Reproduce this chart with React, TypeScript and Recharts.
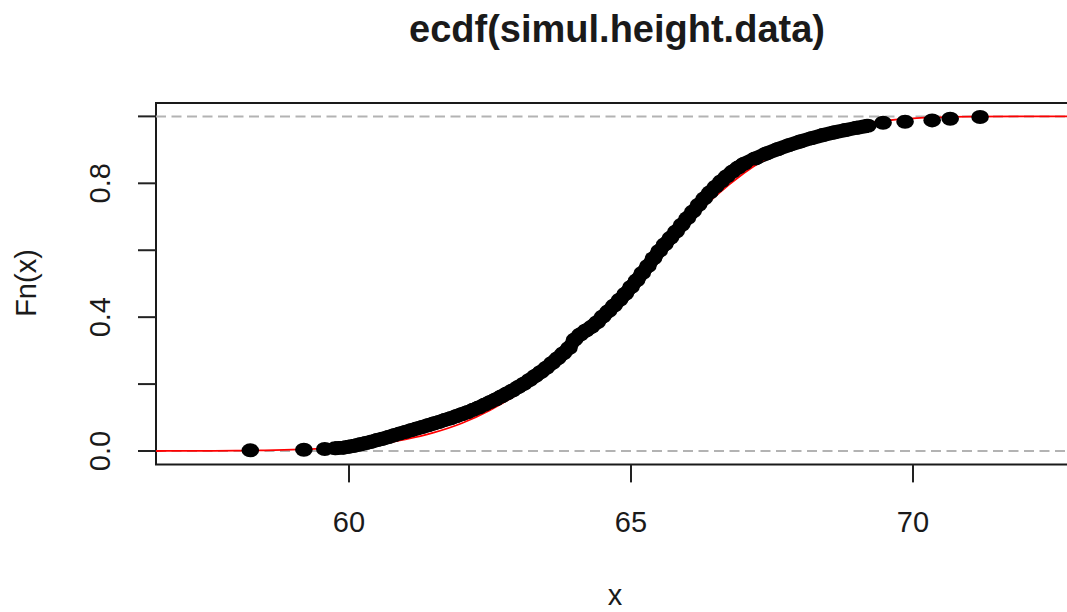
import React from 'react';
import { ComposedChart, Line, Scatter, XAxis, YAxis, ReferenceLine, ReferenceArea } from 'recharts';

// ---- data ----
const title = 'ecdf(simul.height.data)';
const xLabel = 'x';
const yLabel = 'Fn(x)';

const xTicks = [60, 65, 70];
const yTicks = [0, 0.2, 0.4, 0.6, 0.8, 1];
const yTickLabels = ['0.0', '', '0.4', '', '0.8', ''];

const xDomain = [56.578, 72.926];
const yDomain = [-0.04, 1.04];

// empirical CDF points (black)
const ecdfX = [
  58.25, 59.2, 59.57, 59.75, 59.9, 60.0, 60.1, 60.2, 60.3, 60.4, 60.5, 60.6, 60.7, 60.8, 60.9,
  61.0, 61.1, 61.2, 61.3, 61.4, 61.5, 61.6, 61.7, 61.8, 61.9, 62.0, 62.1, 62.2, 62.3, 62.4,
  62.5, 62.6, 62.7, 62.8, 62.9, 63.0, 63.1, 63.2, 63.3, 63.4, 63.5, 63.6, 63.7, 63.8, 63.9,
  64.0, 64.1, 64.2, 64.3, 64.4, 64.5, 64.6, 64.7, 64.8, 64.9, 65.0, 65.1, 65.2, 65.3, 65.4,
  65.5, 65.6, 65.7, 65.8, 65.9, 66.0, 66.1, 66.2, 66.3, 66.4, 66.5, 66.6, 66.7, 66.8, 66.9,
  67.0, 67.2, 67.4, 67.6, 67.8, 68.0, 68.2, 68.4, 68.6, 68.8, 69.0, 69.2, 69.47, 69.86, 70.34,
  70.66, 71.19,
];
const ecdfY = [
  0.002, 0.004, 0.006, 0.008, 0.010, 0.013, 0.016, 0.020, 0.024, 0.028, 0.033, 0.037, 0.042, 0.047, 0.052,
  0.057, 0.062, 0.067, 0.072, 0.077, 0.082, 0.087, 0.093, 0.098, 0.104, 0.110, 0.116, 0.123, 0.130, 0.138,
  0.146, 0.154, 0.163, 0.172, 0.181, 0.191, 0.201, 0.212, 0.224, 0.236, 0.249, 0.263, 0.277, 0.292, 0.308,
  0.333, 0.348, 0.360, 0.371, 0.385, 0.402, 0.418, 0.435, 0.452, 0.470, 0.490, 0.510, 0.532, 0.553, 0.576,
  0.598, 0.618, 0.637, 0.656, 0.676, 0.696, 0.716, 0.736, 0.755, 0.773, 0.790, 0.806, 0.821, 0.835, 0.847,
  0.858, 0.874, 0.889, 0.902, 0.914, 0.925, 0.935, 0.944, 0.952, 0.959, 0.966, 0.972, 0.981, 0.984, 0.988,
  0.993, 0.998,
];
// range of ecdf points that form the continuous black band
const bandStart = 3;
const bandEnd = 86;

// fitted normal CDF (red)
const fitX = [56.578, 57, 58, 59, 59.5, 60, 60.5, 61, 61.5, 62, 62.5, 63, 63.5, 64, 64.5, 65, 65.5, 66, 66.5, 67, 67.5, 68, 68.5, 69, 69.5, 70, 71, 72, 72.926];
const fitY = [0.0001, 0.0002, 0.001, 0.004, 0.007, 0.012, 0.021, 0.035, 0.055, 0.083, 0.122, 0.172, 0.238, 0.316, 0.404, 0.497, 0.592, 0.682, 0.762, 0.83, 0.885, 0.927, 0.956, 0.975, 0.987, 0.994, 0.999, 1.0, 1.0];

const ecdfData = ecdfX.map((x, i) => ({ x, y: ecdfY[i] }));
const bandData = ecdfData.slice(bandStart, bandEnd + 1);
const fitData = fitX.map((x, i) => ({ x, y: fitY[i] }));

const FONT = '"Liberation Sans", Arial, sans-serif';
const TEXT = '#1a1a1a';

const PLOT_LEFT = 156;
const PLOT_TOP = 103;
const PLOT_BOTTOM = 464.4;
const CHART_W = 1100;
const CHART_H = 612;
const PLOT_RIGHT = 1078;
const X_AXIS_H = 80;
const Y_AXIS_W = 80;

const YTick = (props: any) => {
  const { x, y, index } = props;
  const label = yTickLabels[index] ?? '';
  if (!label) return <g />;
  return (
    <text
      x={x}
      y={y}
      transform={`rotate(-90, ${x}, ${y})`}
      textAnchor="middle"
      fontFamily={FONT}
      fontSize={29}
      fill={TEXT}
    >
      {label}
    </text>
  );
};

const Dot = (props: any) => {
  const { cx, cy } = props;
  if (cx == null || cy == null) return <g />;
  return <ellipse cx={cx} cy={cy} rx={8.8} ry={7} fill="#000" />;
};

export default function App() {
  return (
    <div style={{ position: 'absolute', left: 0, top: 0, width: 1067, height: 612, overflow: 'hidden', background: '#fff' }}>
      <ComposedChart
        width={CHART_W}
        height={CHART_H}
        margin={{
          top: PLOT_TOP,
          left: PLOT_LEFT - Y_AXIS_W,
          right: CHART_W - PLOT_RIGHT,
          bottom: CHART_H - PLOT_BOTTOM - X_AXIS_H,
        }}
      >
        <XAxis
          type="number"
          dataKey="x"
          domain={xDomain}
          ticks={xTicks}
          allowDataOverflow
          height={X_AXIS_H}
          axisLine={false}
          tickSize={18}
          tickMargin={29}
          tickLine={{ stroke: '#222', strokeWidth: 2 }}
          tick={{ fontFamily: FONT, fontSize: 29, fill: TEXT }}
        />
        <YAxis
          type="number"
          dataKey="y"
          domain={yDomain}
          ticks={yTicks}
          allowDataOverflow
          width={Y_AXIS_W}
          axisLine={false}
          tickSize={18}
          tickMargin={28}
          tickLine={{ stroke: '#222', strokeWidth: 2 }}
          tick={<YTick />}
        />
        <ReferenceLine y={0} stroke="#b3b3b3" strokeWidth={2} strokeDasharray="10 5.5" ifOverflow="visible" />
        <ReferenceLine y={1} stroke="#b3b3b3" strokeWidth={2} strokeDasharray="10 5.5" ifOverflow="visible" />
        <Line
          data={bandData}
          dataKey="y"
          type="linear"
          stroke="#000"
          strokeWidth={14}
          dot={false}
          activeDot={false}
          isAnimationActive={false}
        />
        <Scatter data={ecdfData} dataKey="y" fill="#000" shape={<Dot />} isAnimationActive={false} />
        <Line
          data={fitData}
          dataKey="y"
          type="monotone"
          stroke="#ff0000"
          strokeWidth={1.8}
          dot={false}
          activeDot={false}
          isAnimationActive={false}
        />
        <ReferenceArea
          x1={xDomain[0]}
          x2={xDomain[1]}
          y1={yDomain[0]}
          y2={yDomain[1]}
          fill="none"
          fillOpacity={0}
          stroke="#1a1a1a"
          strokeWidth={2}
          ifOverflow="visible"
        />
      </ComposedChart>
      <svg width={1067} height={612} style={{ position: 'absolute', left: 0, top: 0, pointerEvents: 'none' }}>
        <text x={617} y={42} textAnchor="middle" fontFamily={FONT} fontWeight="bold" fontSize={38} fill={TEXT}>
          {title}
        </text>
        <text x={615} y={605} textAnchor="middle" fontFamily={FONT} fontSize={29} fill={TEXT}>
          {xLabel}
        </text>
        <text x={36} y={283} transform="rotate(-90, 36, 283)" textAnchor="middle" fontFamily={FONT} fontSize={29} fill={TEXT}>
          {yLabel}
        </text>
      </svg>
    </div>
  );
}
